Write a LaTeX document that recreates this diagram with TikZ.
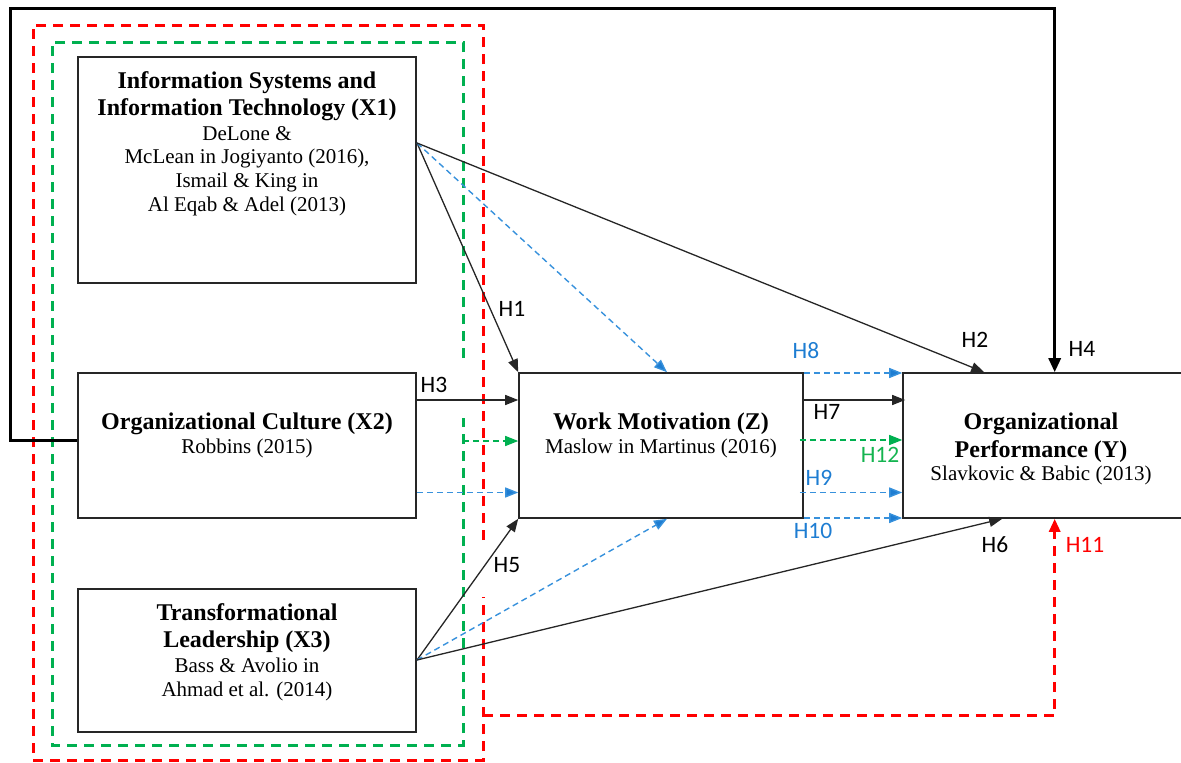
\documentclass[tikz,border=0pt]{standalone}
\usepackage{fontspec}
\setmainfont{Liberation Serif}
\newfontfamily\labfont{Carlito}
\usetikzlibrary{arrows.meta}
\definecolor{lblue}{RGB}{55,145,220}
\definecolor{tblue}{RGB}{30,125,210}
\definecolor{fgreen}{RGB}{0,176,80}
\definecolor{tgreen}{RGB}{20,180,80}
\definecolor{fred}{RGB}{255,0,0}
\begin{document}
\begin{tikzpicture}[x=1pt,y=-1pt,
  box/.style={draw=black!85, line width=1.6pt, inner sep=0pt},
  ttl/.style={anchor=base, font=\bfseries\fontsize{24}{27}\selectfont, inner sep=0pt},
  cit/.style={anchor=base, font=\fontsize{21}{24}\selectfont, inner sep=0pt},
  lab/.style={font=\labfont\fontsize{23.5}{25}\selectfont, inner sep=0pt},
  arr/.style={draw=black!85, line width=1.3pt, -{Triangle[length=13pt,width=10pt]}},
  barr/.style={draw=lblue, line width=1.4pt, dash pattern=on 6pt off 4pt, -{Triangle[length=13pt,width=10pt,fill=tblue]}},
  garr/.style={draw=fgreen, line width=1.4pt, dash pattern=on 6pt off 4pt, -{Triangle[length=13pt,width=10pt]}},
  frame/.style={line width=3pt, dash pattern=on 10pt off 7pt},
]
\useasboundingbox (0,0) rectangle (1181,763);

% frames
\draw[frame, fred] (483,540) -- (483,25) -- (33,25) -- (33,760) -- (483,760) -- (483,597);
\draw[frame, fgreen] (463,358) -- (463,42) -- (52,42) -- (52,745) -- (463,745) -- (463,418);

% boxes
\node[box, fill=white, minimum width=338, minimum height=226] (x1) at (247,170) {};
\node[box, fill=white, minimum width=338, minimum height=145] (x2) at (247,445.5) {};
\node[box, fill=white, minimum width=338, minimum height=143] (x3) at (247,660.5) {};
\node[box, fill=white, minimum width=284, minimum height=145] (z) at (661,445.5) {};
\node[box, fill=white, minimum width=281, minimum height=145] (y) at (1043.5,445.5) {};

% texts
\node[ttl] (x1a) at (247,88) {Information Systems and};
\node[ttl] (x1b) at (247,115) {Information Technology (X1)};
\node[cit] (x1c) at (247,140) {DeLone \&};
\node[cit] (x1d) at (247,163.5) {McLean in Jogiyanto (2016),};
\node[cit] (x1e) at (247,187.5) {Ismail \& King in};
\node[cit] (x1f) at (247,211) {Al Eqab \& Adel (2013)};

\node[ttl] (x2a) at (247,429) {Organizational Culture (X2)};
\node[cit] (x2b) at (247,453) {Robbins (2015)};

\node[ttl] (x3a) at (247,620) {Transformational};
\node[ttl] (x3b) at (247,647) {Leadership (X3)};
\node[cit] (x3c) at (247,672) {Bass \& Avolio in};
\node[cit] (x3d) at (247,696) {Ahmad et al. (2014)};

\node[ttl] (za) at (661,429) {Work Motivation (Z)};
\node[cit] (zb) at (661,453) {Maslow in Martinus (2016)};

\node[ttl] (ya) at (1041,429) {Organizational};
\node[ttl] (yb) at (1041,457) {Performance (Y)};
\node[cit] (yc) at (1041,480) {Slavkovic \& Babic (2013)};

% helper coordinates
\coordinate (x1p) at (417,143);
\coordinate (x3p) at (417,660);
\coordinate (r373) at (0,373);
\coordinate (r400) at (0,400);
\coordinate (r440) at (0,440);
\coordinate (r441) at (0,441);
\coordinate (r492) at (0,492.5);
\coordinate (r518) at (0,518);
\coordinate (g441) at (463,441);
\coordinate (h4c) at (10,8);
\coordinate (h11s) at (483,715);

% H4 outer line
\draw[draw=black, line width=3pt, -{Triangle[length=14pt,width=12pt]}]
  (x2.west |- r440) -| (h4c) -| ([xshift=152.5]y.north west);

% from X1
\draw[arr] (x1p) -- (z.north west);
\draw[barr] (x1p) -- ([xshift=6]z.north);
\draw[arr] (x1p) -- ([xshift=82]y.north west);

% from X2
\draw[arr] (x2.east |- r400) -- (z.west |- r400);
\draw[barr] (x2.east |- r492) -- (z.west |- r492);
\draw[garr] (g441) -- (z.west |- r441);

% from X3
\draw[arr] (x3p) -- (z.south west);
\draw[barr] (x3p) -- ([xshift=6]z.south);
\draw[arr] (x3p) -- ([xshift=100]y.south west);

% Z to Y
\draw[barr] (z.east |- r373) -- (y.west |- r373);
\draw[arr] (z.east |- r400) -- ([xshift=3]y.west |- r400);
\draw[garr] ([xshift=-4]z.east |- r440) -- (y.west |- r440);
\draw[barr] ([xshift=-4]z.east |- r492) -- (y.west |- r492);
\draw[barr] (z.east |- r518) -- (y.west |- r518);

% H11
\draw[frame, fred, -{Triangle[length=13pt,width=11pt]}] (h11s) -| ([xshift=152.5]y.south west);

% labels
\node[lab] (h1) at (512,309) {H1};
\node[lab] (h2) at (975,340) {H2};
\node[lab] (h3) at (434,385) {H3};
\node[lab] (h4) at (1082,349) {H4};
\node[lab] (h5) at (507,565) {H5};
\node[lab] (h6) at (995,545) {H6};
\node[lab] (h7) at (827,412) {H7};
\node[lab, text=tblue] (h8) at (806,351) {H8};
\node[lab, text=tblue] (h9) at (819,478) {H9};
\node[lab, text=tblue] (h10) at (813,531) {H10};
\node[lab, text=fred] (h11) at (1085,545) {H11};
\node[lab, text=tgreen] (h12) at (880,455) {H12};
\end{tikzpicture}
\end{document}
